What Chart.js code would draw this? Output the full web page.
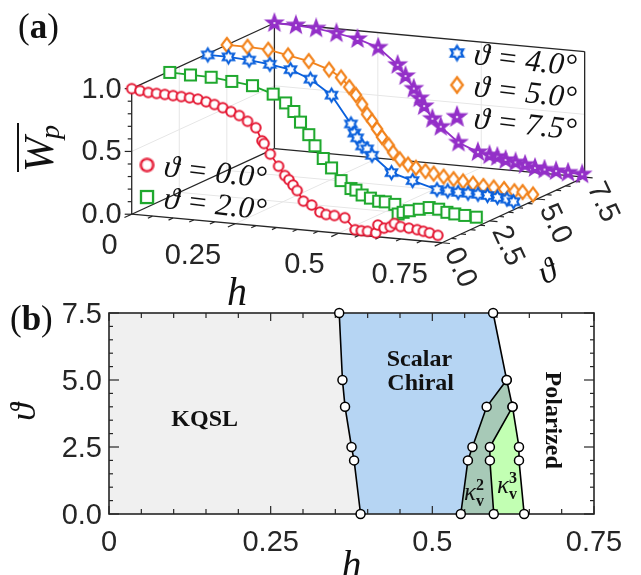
<!DOCTYPE html>
<html>
<head>
<meta charset="utf-8">
<script src="https://cdn.jsdelivr.net/npm/chart.js@4.4.1/dist/chart.umd.min.js"></script>
<style>
  html, body { margin: 0; padding: 0; background: #fff; }
  #wrap { position: relative; width: 641px; height: 575px; overflow: hidden; }
  canvas { position: absolute; left: 0; }
  #chartA { top: 0; }
  #chartB { top: 290px; }
</style>
</head>
<body>
<div id="wrap">
  <canvas id="chartA" width="641" height="320"></canvas>
  <canvas id="chartB" width="641" height="285"></canvas>
</div>
<script>
// ---------- panel (a): W_p vs h for each angle ----------
const hT0 = [0, 0.02, 0.04, 0.06, 0.08, 0.1, 0.12, 0.14, 0.16, 0.18, 0.2, 0.22, 0.24, 0.26, 0.28, 0.3, 0.315, 0.32, 0.335, 0.355, 0.37, 0.38, 0.39, 0.4, 0.415, 0.435, 0.455, 0.47, 0.49, 0.515, 0.54, 0.555, 0.57, 0.59, 0.595, 0.61, 0.625, 0.635, 0.65, 0.67, 0.69, 0.705, 0.72, 0.74];
const wT0 = [1.0, 0.99, 0.982, 0.98, 0.978, 0.975, 0.973, 0.97, 0.965, 0.95, 0.934, 0.915, 0.89, 0.865, 0.825, 0.78, 0.68, 0.66, 0.58, 0.49, 0.42, 0.39, 0.35, 0.31, 0.23, 0.205, 0.155, 0.14, 0.138, 0.128, 0.04, 0.037, 0.037, 0.03, 0.094, 0.074, 0.09, 0.119, 0.099, 0.092, 0.086, 0.078, 0.07, 0.056];

const hT2 = [0, 0.05, 0.1, 0.15, 0.2, 0.25, 0.28, 0.3, 0.316, 0.336, 0.351, 0.371, 0.391, 0.414, 0.438, 0.45, 0.465, 0.485, 0.505, 0.521, 0.544, 0.552, 0.564, 0.579, 0.603, 0.627, 0.65, 0.67, 0.689, 0.713, 0.741];
const wT2 = [0.99, 0.985, 0.982, 0.964, 0.945, 0.893, 0.832, 0.77, 0.69, 0.596, 0.512, 0.417, 0.348, 0.254, 0.198, 0.189, 0.155, 0.136, 0.117, 0.117, 0.104, 0.03, 0.047, 0.064, 0.083, 0.104, 0.098, 0.079, 0.072, 0.067, 0.062];

const hT4 = [0, 0.05, 0.1, 0.15, 0.2, 0.248, 0.299, 0.346, 0.354, 0.361, 0.373, 0.385, 0.397, 0.444, 0.495, 0.554, 0.58, 0.605, 0.629, 0.653, 0.676, 0.7, 0.723, 0.739];
const wT4 = [0.99, 0.989, 0.979, 0.961, 0.933, 0.872, 0.76, 0.545, 0.475, 0.439, 0.378, 0.358, 0.311, 0.187, 0.139, 0.085, 0.082, 0.079, 0.079, 0.078, 0.075, 0.067, 0.061, 0.044];

const hT5 = [0, 0.05, 0.1, 0.148, 0.198, 0.247, 0.276, 0.296, 0.312, 0.327, 0.339, 0.351, 0.363, 0.375, 0.391, 0.402, 0.418, 0.438, 0.457, 0.48, 0.5, 0.524, 0.548, 0.571, 0.595, 0.62, 0.645, 0.67, 0.695, 0.715, 0.74];
const wT5 = [1.0, 1.0, 0.992, 0.961, 0.931, 0.878, 0.824, 0.754, 0.695, 0.625, 0.55, 0.5, 0.44, 0.38, 0.32, 0.265, 0.215, 0.18, 0.16, 0.14, 0.126, 0.11, 0.097, 0.086, 0.075, 0.064, 0.06, 0.055, 0.045, 0.045, 0.033];

const hT75 = [0, 0.052, 0.101, 0.15, 0.201, 0.251, 0.298, 0.317, 0.337, 0.351, 0.362, 0.382, 0.402, 0.445, 0.492, 0.52, 0.539, 0.559, 0.583, 0.606, 0.63, 0.653, 0.681, 0.71, 0.744];
const wT75 = [1.0, 0.998, 0.988, 0.964, 0.934, 0.881, 0.757, 0.674, 0.58, 0.508, 0.448, 0.353, 0.296, 0.183, 0.121, 0.105, 0.098, 0.079, 0.068, 0.055, 0.037, 0.031, 0.027, 0.024, 0.021];

const hTicks = [0, 0.25, 0.5, 0.75];
const hTickLabels = ['0', '0.25', '0.5', '0.75'];
const thetaTicks = [0, 2.5, 5, 7.5];
const thetaTickLabels = ['0.0', '2.5', '5.0', '7.5'];
const wTicks = [0, 0.5, 1];
const wTickLabels = ['0.0', '0.5', '1.0'];

// ---------- panel (b): phase boundaries ----------
const thetaB = [0, 2, 2.5, 4, 5, 7.5];
const hKqslEdge = [0.389, 0.379, 0.375, 0.365, 0.361, 0.356];
const hChiralEdge = [0.544, 0.555, 0.562, 0.584, 0.615, 0.594];
const thetaK2K3 = [0, 2, 2.5, 4];
const hK2K3 = [0.595, 0.589, 0.589, 0.624];
const thetaK3Pol = [0, 2, 2.5, 4, 5];
const hK3Pol = [0.642, 0.634, 0.634, 0.624, 0.615];
const hTicksB = [0, 0.25, 0.5, 0.75];
const hTickLabelsB = ['0', '0.25', '0.5', '0.75'];
const thetaTicksB = [0, 2.5, 5, 7.5];
const thetaTickLabelsB = ['0.0', '2.5', '5.0', '7.5'];

const SANS = '"Liberation Sans", Arial, Helvetica, sans-serif';
const SERIF = '"Liberation Serif", "DejaVu Serif", "Times New Roman", serif';
const INK = '#262626';

// oblique projection of (h, theta, W) onto the 2d chart plane
const KX = 19.5 / 424, KH = 40 / 132, KT = 9.2 / 132;
function proj(h, t, w) {
  return { x: h + KX * t, y: w - KH * h + KT * t };
}

function marker(shape, color, size, solid) {
  const s = Math.ceil(size + 6);
  const c = document.createElement('canvas');
  c.width = s; c.height = s;
  const g = c.getContext('2d');
  const m = s / 2, r = size / 2;
  g.beginPath();
  if (shape === 'circle') {
    g.arc(m, m, r, 0, Math.PI * 2);
  } else if (shape === 'square') {
    g.rect(m - r, m - r, 2 * r, 2 * r);
  } else if (shape === 'diamond') {
    g.moveTo(m, m - r); g.lineTo(m + r * 0.75, m); g.lineTo(m, m + r); g.lineTo(m - r * 0.75, m);
    g.closePath();
  } else {
    const n = shape === 'hexagram' ? 6 : 5;
    const inner = shape === 'hexagram' ? 0.577 : 0.42;
    for (let k = 0; k < 2 * n; k++) {
      const a = -Math.PI / 2 + k * Math.PI / n;
      const rr = k % 2 ? r * inner : r;
      const px = m + rr * Math.cos(a), py = m + rr * Math.sin(a);
      if (k === 0) g.moveTo(px, py); else g.lineTo(px, py);
    }
    g.closePath();
  }
  g.fillStyle = solid ? color : '#fff';
  g.fill();
  g.lineWidth = 2.1;
  g.lineJoin = 'miter';
  g.strokeStyle = color;
  g.stroke();
  if (solid) {
    g.beginPath(); g.arc(m, m, 1, 0, Math.PI * 2); g.fillStyle = '#fff'; g.fill();
  }
  return c;
}

const seriesA = [
  { theta: 0, h: hT0, w: wT0, color: '#e51b36', shape: 'circle', size: 9.5, label: 'ϑ = 0.0°' },
  { theta: 2, h: hT2, w: wT2, color: '#1fa82e', shape: 'square', size: 11, label: 'ϑ = 2.0°' },
  { theta: 4, h: hT4, w: wT4, color: '#0a60dc', shape: 'hexagram', size: 13, label: 'ϑ = 4.0°' },
  { theta: 5, h: hT5, w: wT5, color: '#f2831c', shape: 'diamond', size: 14, label: 'ϑ = 5.0°' },
  { theta: 7.5, h: hT75, w: wT75, color: '#9430c8', shape: 'pentagram', size: 16, solid: true, label: 'ϑ = 7.5°' }
];

function seg(g, a, b) {
  g.beginPath(); g.moveTo(a[0], a[1]); g.lineTo(b[0], b[1]); g.stroke();
}

const box3d = {
  id: 'box3d',
  beforeDatasetsDraw(chart) {
    const g = chart.ctx, xs = chart.scales.x, ys = chart.scales.y;
    const P = (h, t, w) => { const p = proj(h, t, w); return [xs.getPixelForValue(p.x), ys.getPixelForValue(p.y)]; };
    g.save();
    // light grid on the three back planes
    g.strokeStyle = '#e6e6e6'; g.lineWidth = 1;
    [0.25, 0.5].forEach(h => { seg(g, P(h, 7.5, 0), P(h, 7.5, 1)); seg(g, P(h, 0, 0), P(h, 7.5, 0)); });
    [2.5, 5].forEach(t => { seg(g, P(0, t, 0), P(0, t, 1)); seg(g, P(0, t, 0), P(0.75, t, 0)); });
    seg(g, P(0, 7.5, 0.5), P(0.75, 7.5, 0.5));
    seg(g, P(0, 0, 0.5), P(0, 7.5, 0.5));
    // box edges
    g.strokeStyle = INK; g.lineWidth = 1.3;
    seg(g, P(0, 0, 0), P(0, 0, 1));
    seg(g, P(0, 0, 0), P(0.75, 0, 0));
    seg(g, P(0.75, 0, 0), P(0.75, 7.5, 0));
    seg(g, P(0, 0, 0), P(0, 7.5, 0));
    seg(g, P(0, 7.5, 0), P(0, 7.5, 1));
    seg(g, P(0, 7.5, 0), P(0.75, 7.5, 0));
    seg(g, P(0.75, 7.5, 0), P(0.75, 7.5, 1));
    seg(g, P(0, 7.5, 1), P(0.75, 7.5, 1));
    seg(g, P(0, 0, 1), P(0, 7.5, 1));
    // ticks
    g.lineWidth = 1.2;
    for (let k = 0; k <= 10; k++) {
      const p = P(0, 0, k / 10), len = k % 5 === 0 ? 7 : 4;
      seg(g, p, [p[0] - len, p[1]]);
    }
    for (let k = 0; k <= 15; k++) {
      const p = P(k * 0.05, 0, 0), q = P(k * 0.05, -1, 0);
      const dx = q[0] - p[0], dy = q[1] - p[1], d = Math.hypot(dx, dy), len = k % 5 === 0 ? 8 : 5;
      seg(g, p, [p[0] + dx / d * len, p[1] + dy / d * len]);
    }
    for (let k = 0; k <= 15; k++) {
      const p = P(0.75, k * 0.5, 0), q = P(0.85, k * 0.5, 0);
      const dx = q[0] - p[0], dy = q[1] - p[1], d = Math.hypot(dx, dy), len = k % 5 === 0 ? 8 : 5;
      seg(g, p, [p[0] + dx / d * len, p[1] + dy / d * len]);
    }
    g.restore();
  },
  afterDatasetsDraw(chart) {
    const g = chart.ctx, xs = chart.scales.x, ys = chart.scales.y;
    const P = (h, t, w) => { const p = proj(h, t, w); return [xs.getPixelForValue(p.x), ys.getPixelForValue(p.y)]; };
    g.save();
    g.fillStyle = INK;
    g.font = '29px ' + SANS;
    g.textAlign = 'right'; g.textBaseline = 'middle';
    wTicks.forEach((w, i) => { const p = P(0, 0, w); g.fillText(wTickLabels[i], p[0] - 10, p[1] + 1); });
    hTicks.forEach((h, i) => { const p = P(h, 0, 0); g.fillText(hTickLabels[i], p[0] - 14, p[1] + 32); });
    g.textAlign = 'center';
    thetaTicks.forEach((t, i) => {
      const p = P(0.75, t, 0);
      g.save(); g.translate(p[0] + 18, p[1] + 25); g.rotate(65 * Math.PI / 180);
      g.fillText(thetaTickLabels[i], 0, 0); g.restore();
    });
    // axis labels
    g.fillStyle = '#111';
    g.font = 'italic 40px ' + SERIF;
    g.textAlign = 'center'; g.textBaseline = 'alphabetic';
    g.fillText('h', 237, 305);
    g.save(); g.translate(548, 273); g.rotate(-25 * Math.PI / 180);
    g.font = 'italic 34px ' + SERIF; g.textBaseline = 'middle';
    g.fillText('ϑ', 0, 0); g.restore();
    // overlined W_p
    g.save(); g.translate(53, 150); g.rotate(-Math.PI / 2);
    g.textAlign = 'left'; g.textBaseline = 'alphabetic';
    g.font = 'italic 42px ' + SERIF;
    g.fillText('W', -22, 0);
    const ww = g.measureText('W').width;
    g.font = 'italic 28px ' + SERIF;
    g.fillText('p', -24 + ww, 6);
    const pw = g.measureText('p').width;
    g.strokeStyle = '#111'; g.lineWidth = 2;
    seg(g, [-22, -35], [-22 + ww + pw, -35]);
    g.restore();
    // panel tag
    g.textAlign = 'left'; g.textBaseline = 'alphabetic';
    g.font = '35px ' + SERIF;
    g.fillText('(', 18, 38);
    let x = 18 + g.measureText('(').width;
    g.font = 'bold 35px ' + SERIF;
    g.fillText('a', x, 38);
    x += g.measureText('a').width;
    g.font = '35px ' + SERIF;
    g.fillText(')', x, 38);
    // legends
    const leg = [[0, 147, 165], [1, 147, 197], [2, 457, 53], [3, 457, 85], [4, 457, 117]];
    g.font = 'italic 31px ' + SERIF;
    g.textBaseline = 'middle';
    leg.forEach(([i, mx, my]) => {
      const img = chart.data.datasets[i].pointStyle;
      const big = i === 0 ? 1.3 : 1.1;
      g.drawImage(img, mx - img.width * big / 2, my - img.height * big / 2, img.width * big, img.height * big);
      g.save(); g.translate(mx + 17, my + 3); g.rotate(6.5 * Math.PI / 180);
      g.fillText(seriesA[i].label, 0, 0); g.restore();
    });
    g.restore();
  }
};

new Chart(document.getElementById('chartA'), {
  type: 'scatter',
  data: {
    datasets: seriesA.map(s => ({
      label: s.label,
      data: s.h.map((h, i) => proj(h, s.theta, s.w[i])),
      showLine: true,
      borderColor: s.color,
      borderWidth: 1.8,
      pointStyle: marker(s.shape, s.color, s.size, s.solid),
      pointRadius: 6,
      clip: false
    }))
  },
  options: {
    responsive: false,
    animation: false,
    events: [],
    layout: { padding: 0 },
    scales: {
      x: { type: 'linear', display: false, min: -127 / 424, max: (641 - 127) / 424 },
      y: { type: 'linear', display: false, min: (217 - 320) / 132, max: 217 / 132 }
    },
    plugins: { legend: { display: false }, tooltip: { enabled: false } }
  },
  plugins: [box3d]
});

// ---------- panel (b) ----------
const pts = (hs, ts) => hs.map((h, i) => ({ x: h, y: ts[i] }));
const kqslEdge = pts(hKqslEdge, thetaB);
const chiralEdge = pts(hChiralEdge, thetaB);
const k2k3Edge = pts(hK2K3, thetaK2K3);
const k3polEdge = pts(hK3Pol, thetaK3Pol);

const polyKqsl = [{ x: 0, y: 0 }, { x: 0, y: 7.5 }, ...kqslEdge.slice().reverse(), { x: 0, y: 0 }];
const polyChiral = [...kqslEdge, ...chiralEdge.slice().reverse(), kqslEdge[0]];
const polyK2 = [...chiralEdge.slice(0, 5), k3polEdge[3], ...k2k3Edge.slice(0, 3).reverse(), chiralEdge[0]];
const polyK3 = [...k2k3Edge, ...k3polEdge.slice(0, 3).reverse(), k2k3Edge[0]];

function fillSet(data, color) {
  return { data, fill: 'shape', backgroundColor: color, borderWidth: 0, borderColor: color, pointRadius: 0, order: 3 };
}
function edgeSet(data) {
  return {
    data, fill: false, edge: true, borderColor: '#000', borderWidth: 1.6,
    pointRadius: 4.5, pointBackgroundColor: '#fff', pointBorderColor: '#000', pointBorderWidth: 1.5,
    order: 1, clip: false
  };
}

let frameDone = false;
const frameB = {
  id: 'frameB',
  beforeDatasetsDraw() { frameDone = false; },
  beforeDatasetDraw(chart, args) {
    if (frameDone || !chart.data.datasets[args.index].edge) return;
    frameDone = true;
    const g = chart.ctx, a = chart.chartArea, xs = chart.scales.x, ys = chart.scales.y;
    g.save();
    g.strokeStyle = INK; g.lineWidth = 1.6;
    g.strokeRect(a.left, a.top, a.right - a.left, a.bottom - a.top);
    g.lineWidth = 1.2;
    for (let k = 0; k <= 15; k++) {
      const x = xs.getPixelForValue(k * 0.05), len = k % 5 === 0 ? 8 : 5;
      seg(g, [x, a.bottom], [x, a.bottom - len]);
      seg(g, [x, a.top], [x, a.top + len]);
    }
    for (let k = 0; k <= 15; k++) {
      const y = ys.getPixelForValue(k * 0.5), len = k % 5 === 0 ? 10 : 4;
      seg(g, [a.left, y], [a.left + len, y]);
      seg(g, [a.right, y], [a.right - len, y]);
    }
    g.restore();
  },
  afterDatasetsDraw(chart) {
    const g = chart.ctx, a = chart.chartArea, xs = chart.scales.x, ys = chart.scales.y;
    g.save();
    g.fillStyle = INK;
    g.font = '29px ' + SANS;
    g.textAlign = 'right'; g.textBaseline = 'middle';
    thetaTicksB.forEach((t, i) => g.fillText(thetaTickLabelsB[i], a.left - 7, ys.getPixelForValue(t) + 2));
    g.textAlign = 'center';
    hTicksB.forEach((h, i) => g.fillText(hTickLabelsB[i], xs.getPixelForValue(h), a.bottom + 29));
    // region names
    g.fillStyle = '#111';
    g.font = 'bold 24px ' + SERIF;
    g.fillText('KQSL', xs.getPixelForValue(0.148), ys.getPixelForValue(3.5));
    g.fillText('Scalar', xs.getPixelForValue(0.48), ys.getPixelForValue(5.75));
    g.fillText('Chiral', xs.getPixelForValue(0.482), ys.getPixelForValue(4.85));
    g.save(); g.translate(xs.getPixelForValue(0.686), ys.getPixelForValue(3.5)); g.rotate(Math.PI / 2);
    g.fillText('Polarized', 0, 0); g.restore();
    const kappa = (x, y, sup) => {
      g.textAlign = 'left'; g.textBaseline = 'alphabetic';
      g.font = 'italic 25px ' + SERIF;
      g.fillText('κ', x, y);
      const w = g.measureText('κ').width;
      g.font = 'bold 16px ' + SERIF;
      g.fillText(sup, x + w, y - 10);
      g.fillText('v', x + w, y + 6);
    };
    kappa(xs.getPixelForValue(0.549), ys.getPixelForValue(0.52), '2');
    kappa(xs.getPixelForValue(0.600), ys.getPixelForValue(0.78), '3');
    // axis labels
    g.font = 'italic 40px ' + SERIF;
    g.textAlign = 'center'; g.textBaseline = 'alphabetic';
    g.fillText('h', (a.left + a.right) / 2, 288);
    g.save(); g.translate(26, 122); g.rotate(-Math.PI / 2);
    g.font = 'italic 36px ' + SERIF; g.textBaseline = 'middle';
    g.fillText('ϑ', 0, 0); g.restore();
    // panel tag
    g.textAlign = 'left';
    g.font = '35px ' + SERIF;
    g.fillText('(', 10, 40);
    let x = 10 + g.measureText('(').width;
    g.font = 'bold 35px ' + SERIF;
    g.fillText('b', x, 40);
    x += g.measureText('b').width;
    g.font = '35px ' + SERIF;
    g.fillText(')', x, 40);
    g.restore();
  }
};

new Chart(document.getElementById('chartB'), {
  type: 'line',
  data: {
    datasets: [
      fillSet(polyKqsl, '#f0f0f0'),
      fillSet(polyChiral, '#b6d5f3'),
      fillSet(polyK2, '#a7c9b7'),
      fillSet(polyK3, '#c2ffb3'),
      edgeSet(kqslEdge),
      edgeSet(chiralEdge),
      edgeSet(k2k3Edge),
      edgeSet(k3polEdge)
    ]
  },
  options: {
    responsive: false,
    animation: false,
    events: [],
    layout: { padding: { left: 109, right: 47, top: 23, bottom: 61 } },
    scales: {
      x: { type: 'linear', display: false, min: 0, max: 0.75 },
      y: { type: 'linear', display: false, min: 0, max: 7.5 }
    },
    elements: { line: { tension: 0 } },
    plugins: { legend: { display: false }, tooltip: { enabled: false } }
  },
  plugins: [frameB]
});
</script>
</body>
</html>
